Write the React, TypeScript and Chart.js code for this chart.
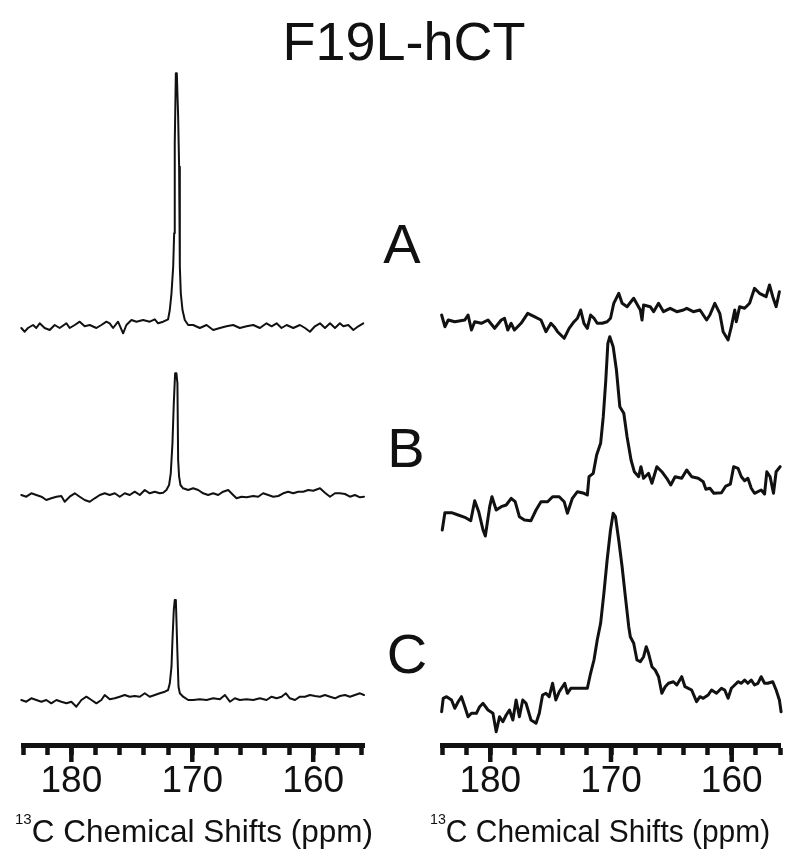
import React, { useEffect, useRef } from 'react';
import { Chart, registerables } from 'chart.js';

Chart.register(...registerables);

const TITLE = 'F19L-hCT';
const TRACE_LABELS = ['A', 'B', 'C'];
const X_TICKS = [184, 182, 180, 178, 176, 174, 172, 170, 168, 166, 164, 162, 160, 158, 156];
const MAJOR_TICKS = [180, 170, 160];
const AXIS_SUP = '13';
const AXIS_TITLE = 'C Chemical Shifts (ppm)';

// [ppm, intensity]
const leftA: [number, number][] = [
  [184.14, 0], [183.86, -3.7], [183.59, 0], [183.17, 3], [182.9, 0], [182.62, 4.7], [182.21, 0], [181.79, -2],
  [181.38, 3], [180.97, 0], [180.41, 4.7], [180.14, 0], [179.72, 3], [179.31, 6.3], [178.9, 1.7], [178.48, 3],
  [177.93, 0], [177.52, 3], [177.1, 6.3], [176.83, 4.7], [176.55, 0], [176.14, 6.3], [175.72, -5.3], [175.45, 3],
  [175.03, 8], [174.62, 6.3], [174.07, 8], [173.52, 6.3], [173.1, 8.7], [172.83, 4.7], [172.41, 6.3], [172.0, 8.7],
  [171.86, 18], [171.72, 34.7], [171.58, 61.3], [171.5, 94.7], [171.45, 184.7], [171.36, 254.7], [171.28, 254.7],
  [171.17, 211.3], [171.09, 161.3], [171.03, 61.3], [170.95, 34.7], [170.81, 18], [170.62, 8], [170.34, 3],
  [169.93, 3], [169.38, 0], [168.82, 3], [168.27, -2], [167.72, 0], [167.17, 1.7], [166.62, 3], [166.07, 0],
  [165.51, 1.7], [164.96, 3], [164.41, 0], [163.86, 4.7], [163.44, 1.7], [163.03, 4.7], [162.62, 0], [162.2, 3],
  [161.65, 0], [161.1, 3], [160.68, 0], [160.27, -3.7], [159.86, 1.7], [159.44, 4.7], [159.03, 0], [158.61, 4.7],
  [158.2, 0], [157.79, 4.7], [157.51, 1.7], [157.1, 3], [156.68, -2], [156.27, 1.7], [155.86, 4.7],
];

const leftB: [number, number][] = [
  [184.14, 0], [183.73, -1.7], [183.31, 1.7], [182.9, 0], [182.48, -1.7], [182.07, -5], [181.66, -3.3], [181.24, -1.7],
  [180.83, -1], [180.55, -6.7], [180.14, -1.7], [179.72, 1.7], [179.31, -1.7], [178.9, -5], [178.48, -6.7],
  [178.07, -3.3], [177.65, 0], [177.24, 1.7], [176.83, 0], [176.41, 1.7], [176.0, -1.7], [175.59, 1.7], [175.17, 0],
  [174.76, 3.3], [174.34, 0], [173.93, 5], [173.52, 1.7], [173.1, 3.3], [172.69, 1.7], [172.41, 2.3], [172.14, 5],
  [171.92, 10], [171.78, 21.7], [171.64, 51.7], [171.53, 91.7], [171.42, 121.7], [171.31, 121.7], [171.23, 111.7],
  [171.17, 35], [171.09, 18.3], [170.98, 10], [170.76, 6.7], [170.34, 5], [169.93, 6.7], [169.51, 5], [169.1, 1.7],
  [168.69, 0], [168.27, 1.7], [167.86, 0], [167.45, 3.3], [167.03, 5], [166.62, 0], [166.34, -3.3], [165.93, -1.7],
  [165.51, -2.3], [164.96, -1], [164.55, -1.7], [164.14, 1.7], [163.72, 0], [163.31, -1.7], [162.89, -1], [162.48, 1.7],
  [162.07, 3.3], [161.65, 1.7], [161.24, 3.3], [160.82, 3.3], [160.41, 5], [160.0, 4.3], [159.44, 6.7], [159.03, 2.3],
  [158.61, -1.7], [158.2, 1.7], [157.79, 1.7], [157.37, 1], [156.96, -1.7], [156.55, 0], [156.13, -2.3], [155.8, -1.7],
];

const leftC: [number, number][] = [
  [184.14, 0], [183.73, -1.7], [183.31, 1.7], [182.9, 0], [182.48, -1.7], [182.07, 0], [181.66, -3.3], [181.24, 0],
  [180.83, -1.7], [180.41, -3.3], [180.0, -1.7], [179.59, -6.7], [179.17, 0], [178.76, 3.3], [178.34, 0], [177.93, -3.3],
  [177.52, 0], [177.24, 5], [176.83, 0.7], [176.41, 1.7], [176.0, 3.3], [175.59, 5], [175.17, 3.3], [174.76, 4],
  [174.34, 3.3], [173.93, 6.7], [173.52, 3.3], [173.1, 5], [172.69, 6.7], [172.27, 8.3], [172.0, 10], [171.86, 16.7],
  [171.72, 33.3], [171.64, 60], [171.53, 90], [171.45, 100], [171.36, 100], [171.31, 80], [171.23, 46.7],
  [171.14, 13.3], [171.03, 6.7], [170.76, 3.3], [170.34, 0], [169.93, 0], [169.38, 0.7], [168.82, 0], [168.27, 1.7],
  [167.72, 0.7], [167.3, 5], [166.89, -1.7], [166.48, 1.7], [166.07, 0], [165.51, 0.7], [164.96, 0], [164.41, 1.7],
  [163.86, 0], [163.44, 3.3], [163.03, 1.7], [162.62, 3.3], [162.26, 6.7], [161.93, 1.7], [161.51, 0], [161.1, 3.3],
  [160.68, 3.3], [160.27, 5], [159.86, 4], [159.44, 3.3], [159.03, 5], [158.61, 3.3], [158.2, 1.7], [157.79, 4],
  [157.37, 5], [156.96, 3.3], [156.55, 5], [156.13, 6.7], [155.8, 5],
];

const rightA: [number, number][] = [
  [184.03, 5], [183.76, -6.7], [183.48, 0], [182.94, -1.7], [182.11, 0], [181.84, 5], [181.56, -10], [181.29, -1.7],
  [180.74, -3.3], [180.19, 0], [179.64, -8.3], [179.09, 0], [178.82, 1.7], [178.55, -10], [178.27, -3.3], [178.0, -10],
  [177.45, -3.3], [176.9, 6.7], [176.35, 3.3], [175.8, 0], [175.39, -11.7], [174.98, -3.3], [174.71, -6.7],
  [174.43, -11.7], [173.88, -18.3], [173.47, -8.3], [173.06, -1.7], [172.78, 1.7], [172.51, 10], [172.24, -3.3],
  [171.96, -8.3], [171.69, 5], [171.41, 1.7], [171.14, -3.3], [170.73, -3.3], [170.32, -1.7], [170.04, 1.7],
  [169.77, 16.7], [169.36, 26.7], [169.08, 16.7], [168.67, 13.3], [168.12, 21.7], [167.57, 10], [167.43, 0],
  [167.3, 15], [166.75, 13.3], [166.47, 8.3], [166.06, 16.7], [165.65, 8.3], [165.1, 11.7], [164.55, 8.3], [164.0, 10],
  [163.73, 11.7], [163.18, 8.3], [162.63, 10], [162.08, 0], [161.81, 5], [161.4, 16.7], [160.99, 6.7], [160.71, -11.7],
  [160.3, -20], [160.03, -6.7], [159.75, 10], [159.62, -1.7], [159.34, 13.3], [158.93, 11.7], [158.52, 16.7],
  [158.11, 31.7], [157.7, 26.7], [157.15, 23.3], [156.87, 35], [156.6, 23.3], [156.32, 13.3], [156.05, 28.3],
];

const rightB: [number, number][] = [
  [183.98, -40], [183.76, -22.7], [183.21, -22.7], [182.66, -25], [182.11, -27.3], [181.62, -30.7], [181.29, -10.7],
  [180.96, -21.7], [180.6, -40], [180.41, -46], [180.05, -16.7], [179.86, -6.7], [179.51, -20], [179.09, -16.7],
  [178.68, -15], [178.27, -8.3], [177.94, -11.7], [177.59, -26.7], [177.17, -30], [176.63, -30.7], [176.21, -20],
  [175.8, -11.7], [175.25, -11.7], [174.84, -6.7], [174.29, -6.7], [173.88, -11.7], [173.61, -23.3], [173.2, -8.3],
  [172.78, -1.7], [172.24, -3.3], [171.96, -5], [171.82, 13.3], [171.47, 16.7], [171.19, 35], [170.86, 46.7],
  [170.64, 73.3], [170.43, 110], [170.26, 146.7], [170.1, 153.3], [169.82, 143.3], [169.55, 120], [169.27, 83.3],
  [168.94, 76.7], [168.67, 53.3], [168.34, 30], [168.07, 18.3], [167.71, 13.3], [167.52, 23.3], [167.3, 11.7],
  [166.89, 16.7], [166.61, 6.7], [166.2, 23.3], [165.79, 18.3], [165.38, 11.7], [165.05, 5], [164.69, 13.3],
  [164.14, 11.7], [163.73, 20], [163.32, 13.3], [162.77, 11.7], [162.36, 8.3], [162.14, 0.7], [161.81, 1.7],
  [161.48, -3.3], [160.85, -2.7], [160.49, 4], [160.11, 6], [159.84, 23.3], [159.48, 21.7], [159.2, 13.3],
  [158.93, 9.3], [158.66, 11.7], [158.38, 1.7], [158.11, -3.3], [157.56, 0], [157.28, -4], [157.09, 18.3],
  [156.82, 13.3], [156.54, -3.3], [156.32, 18.3], [155.99, 23.3],
];

const rightC: [number, number][] = [
  [184.03, -11.7], [183.9, 1.7], [183.62, 3.3], [183.21, 0], [182.94, -8.3], [182.66, -1.7], [182.39, 3.3],
  [182.11, -6.7], [181.84, -16.7], [181.56, -13.3], [181.15, -13.3], [180.88, -6.7], [180.6, -3.3], [180.19, -10],
  [179.78, -13.3], [179.51, -31.7], [179.23, -16.7], [178.96, -21.7], [178.68, -15], [178.41, -10], [178.13, -20],
  [177.86, 0], [177.59, -16.7], [177.31, 0], [177.04, -3.3], [176.63, -20], [176.21, -23.3], [175.94, -13.3],
  [175.67, 5], [175.39, 6.7], [175.12, 3.3], [174.84, 16.7], [174.57, 0], [174.29, 8.3], [174.02, 13.3],
  [173.83, 16.7], [173.61, 6.7], [173.33, 11.7], [172.78, 11.7], [171.96, 11.7], [171.69, 26.7], [171.41, 40],
  [171.14, 60], [170.86, 76.7], [170.59, 106.7], [170.32, 140], [170.04, 170], [169.82, 186.7], [169.63, 183.3],
  [169.36, 160], [169.08, 133.3], [168.81, 103.3], [168.53, 73.3], [168.4, 63.3], [168.12, 56.7], [167.85, 40],
  [167.57, 38.3], [167.3, 43.3], [167.08, 53.3], [166.89, 46.7], [166.61, 33.3], [166.34, 30], [166.06, 23.3],
  [165.79, 6.7], [165.51, 13.3], [165.24, 16.7], [164.83, 18.3], [164.55, 15], [164.14, 23.3], [163.87, 13.3],
  [163.59, 11.7], [163.32, 10], [162.91, -1.7], [162.63, 3.3], [162.36, 1.7], [161.95, 5], [161.67, 10],
  [161.26, 6.7], [160.85, 11.7], [160.58, 10], [160.3, 1.7], [160.03, 11.7], [159.75, 15], [159.48, 18.3],
  [159.2, 16.7], [158.93, 20], [158.66, 16.7], [158.38, 20], [158.11, 15], [157.83, 16.7], [157.56, 23.3],
  [157.28, 16.7], [157.01, 16.7], [156.6, 18.3], [156.32, 10], [156.05, 0], [155.91, -11.7],
];

// vertical stacking offsets for traces A, B, C (intensity units)
const LEFT_OFFSETS = [372, 205, 0];
const RIGHT_OFFSETS = [380, 210, 0];

const FONT = "'Liberation Sans', Arial, Helvetica, sans-serif";
const INK = '#111';

const majorTickPlugin = {
  id: 'majorTicks',
  afterDraw(chart: any) {
    const s = chart.scales.x;
    const ctx = chart.ctx;
    ctx.save();
    ctx.strokeStyle = INK;
    ctx.lineWidth = 4.5;
    for (const v of MAJOR_TICKS) {
      const px = s.getPixelForValue(v);
      ctx.beginPath();
      ctx.moveTo(px, s.top);
      ctx.lineTo(px, s.top + 17);
      ctx.stroke();
    }
    ctx.restore();
  },
};

type PanelProps = {
  traces: [number, number][][];
  offsets: number[];
  left: number;
  width: number;
  padLeft: number;
  padRight: number;
  xMin: number;
  xMax: number;
  lineWidth: number;
};

function Panel({ traces, offsets, left, width, padLeft, padRight, xMin, xMax, lineWidth }: PanelProps) {
  const ref = useRef<HTMLCanvasElement | null>(null);
  useEffect(() => {
    if (!ref.current) return;
    const chart = new Chart(ref.current, {
      type: 'line',
      data: {
        datasets: traces.map((t, i) => ({
          label: TRACE_LABELS[i],
          data: t.map(([x, y]) => ({ x, y: y + offsets[i] })),
          borderColor: INK,
          borderWidth: lineWidth,
          pointRadius: 0,
          tension: 0,
          fill: false,
          clip: false as any,
          borderJoinStyle: 'round' as const,
          borderCapStyle: 'round' as const,
        })),
      },
      options: {
        responsive: false,
        maintainAspectRatio: false,
        animation: false,
        layout: { padding: { left: padLeft, right: padRight, top: 60, bottom: 0 } },
        plugins: { legend: { display: false }, tooltip: { enabled: false } },
        scales: {
          x: {
            type: 'linear',
            min: xMin,
            max: xMax,
            reverse: true,
            afterBuildTicks: (s: any) => {
              s.ticks = X_TICKS.map((v) => ({ value: v }));
            },
            afterFit: (s: any) => {
              s.height = 108;
            },
            ticks: {
              autoSkip: false,
              maxRotation: 0,
              minRotation: 0,
              padding: 5,
              color: INK,
              font: { family: FONT, size: 37 },
              callback: (v: any) => (MAJOR_TICKS.includes(Number(v)) ? String(v) : ''),
            },
            grid: {
              drawOnChartArea: false,
              drawTicks: true,
              tickLength: 10,
              tickWidth: 4.5,
              tickColor: INK,
            },
            border: { display: true, width: 5, color: INK },
          },
          y: { display: false, min: -45, max: 640 },
        },
      },
      plugins: [majorTickPlugin],
    } as any);
    return () => chart.destroy();
  }, []);
  return (
    <canvas
      ref={ref}
      width={width}
      height={853}
      style={{ position: 'absolute', left, top: 0, width, height: 853 }}
    />
  );
}

const textBase: React.CSSProperties = {
  position: 'absolute',
  fontFamily: FONT,
  color: INK,
  lineHeight: 1,
  whiteSpace: 'nowrap',
  margin: 0,
};

function AxisTitle({ left, scale }: { left: number; scale: number }) {
  return (
    <div style={{ ...textBase, left, top: 816, fontSize: 31.5, transform: `scaleX(${scale})`, transformOrigin: 'left top' }}>
      <span style={{ fontSize: 15, position: 'relative', top: -18 }}>{AXIS_SUP}</span>
      {AXIS_TITLE}
    </div>
  );
}

export default function App() {
  useEffect(() => {
    document.body.style.margin = '0';
    document.body.style.background = '#fff';
  }, []);
  const labelPos = [
    { top: 215.7, x: 402 },
    { top: 419.7, x: 406 },
    { top: 625.7, x: 407 },
  ];
  return (
    <div style={{ position: 'relative', width: 795, height: 853, background: '#fff', overflow: 'hidden' }}>
      <Panel
        traces={[leftA, leftB, leftC]}
        offsets={LEFT_OFFSETS}
        left={0}
        width={400}
        padLeft={23}
        padRight={36}
        xMin={155.8}
        xMax={184}
        lineWidth={2}
      />
      <Panel
        traces={[rightA, rightB, rightC]}
        offsets={RIGHT_OFFSETS}
        left={400}
        width={395}
        padLeft={42}
        padRight={15}
        xMin={156}
        xMax={184}
        lineWidth={3}
      />
      <div style={{ ...textBase, left: 404, top: 13.7, fontSize: 54, transform: 'translateX(-50%)' }}>{TITLE}</div>
      {TRACE_LABELS.map((l, i) => (
        <div
          key={l}
          style={{ ...textBase, left: labelPos[i].x, top: labelPos[i].top, fontSize: 56, transform: 'translateX(-50%)' }}
        >
          {l}
        </div>
      ))}
      <AxisTitle left={15} scale={1} />
      <AxisTitle left={430} scale={0.95} />
    </div>
  );
}
